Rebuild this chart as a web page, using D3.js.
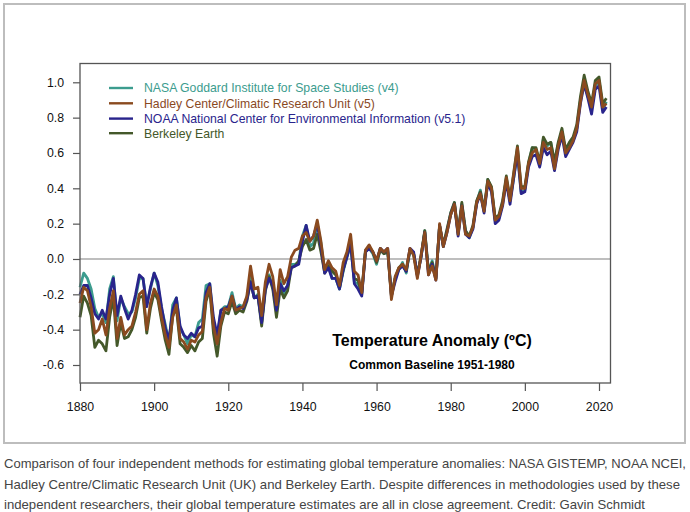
<!DOCTYPE html>
<html>
<head>
<meta charset="utf-8">
<script src="https://cdn.jsdelivr.net/npm/d3@7"></script>
<style>
  html, body { margin: 0; padding: 0; background: #fff; }
  svg { display: block; }
  text { font-family: "Liberation Sans", Arial, Helvetica, sans-serif; }
</style>
</head>
<body>
<svg id="chart" width="690" height="512"></svg>
<script>
// ---- data (annual anomalies, °C, baseline 1951-1980) ----
const startYear = 1880;
const endYear = 2022;

const nasa = [
 -0.16,-0.08,-0.11,-0.17,-0.28,-0.33,-0.31,-0.36,-0.17,-0.10,
 -0.35,-0.22,-0.27,-0.31,-0.30,-0.22,-0.11,-0.11,-0.26,-0.17,
 -0.08,-0.15,-0.28,-0.37,-0.47,-0.26,-0.22,-0.39,-0.43,-0.48,
 -0.43,-0.44,-0.36,-0.34,-0.15,-0.14,-0.36,-0.46,-0.29,-0.27,
 -0.27,-0.19,-0.28,-0.26,-0.27,-0.22,-0.10,-0.22,-0.20,-0.36,
 -0.16,-0.09,-0.16,-0.29,-0.12,-0.20,-0.15,-0.03,-0.03,-0.02,
  0.13, 0.19, 0.07, 0.09, 0.20, 0.09,-0.07,-0.03,-0.11,-0.11,
 -0.17,-0.07, 0.01, 0.08,-0.13,-0.14,-0.19, 0.05, 0.06, 0.03,
 -0.03, 0.06, 0.03, 0.05,-0.20,-0.11,-0.06,-0.02,-0.08, 0.05,
  0.03,-0.09, 0.01, 0.16,-0.07,-0.01,-0.11, 0.19, 0.07, 0.16,
  0.26, 0.32, 0.14, 0.31, 0.16, 0.12, 0.18, 0.32, 0.39, 0.27,
  0.45, 0.40, 0.22, 0.23, 0.32, 0.45, 0.33, 0.46, 0.61, 0.38,
  0.39, 0.54, 0.63, 0.62, 0.53, 0.68, 0.64, 0.66, 0.54, 0.65,
  0.72, 0.61, 0.65, 0.68, 0.74, 0.90, 1.01, 0.92, 0.85, 0.98,
  1.01, 0.85, 0.89
];

const hadley = [
 -0.25,-0.16,-0.18,-0.27,-0.42,-0.40,-0.34,-0.43,-0.28,-0.18,
 -0.45,-0.33,-0.43,-0.40,-0.38,-0.30,-0.20,-0.18,-0.40,-0.25,
 -0.17,-0.21,-0.33,-0.43,-0.50,-0.33,-0.26,-0.45,-0.47,-0.51,
 -0.46,-0.47,-0.43,-0.41,-0.22,-0.16,-0.38,-0.48,-0.36,-0.28,
 -0.29,-0.21,-0.29,-0.28,-0.27,-0.21,-0.04,-0.17,-0.16,-0.32,
 -0.13,-0.03,-0.10,-0.26,-0.06,-0.14,-0.10, 0.01, 0.05, 0.06,
  0.13, 0.15, 0.10, 0.13, 0.22, 0.10,-0.06,-0.01,-0.05,-0.07,
 -0.15,-0.02, 0.04, 0.14,-0.07,-0.09,-0.19, 0.05, 0.08, 0.04,
 -0.01, 0.06, 0.04, 0.06,-0.23,-0.10,-0.05,-0.03,-0.06, 0.06,
  0.02,-0.11, 0.02, 0.15,-0.09,-0.04,-0.12, 0.20, 0.07, 0.15,
  0.25, 0.31, 0.14, 0.30, 0.14, 0.13, 0.18, 0.32, 0.37, 0.27,
  0.44, 0.40, 0.22, 0.24, 0.31, 0.46, 0.33, 0.48, 0.63, 0.40,
  0.40, 0.54, 0.60, 0.62, 0.54, 0.66, 0.62, 0.63, 0.51, 0.64,
  0.72, 0.60, 0.63, 0.67, 0.74, 0.89, 1.01, 0.93, 0.86, 0.99,
  1.01, 0.86, 0.88
];

const noaa = [
 -0.20,-0.15,-0.15,-0.22,-0.31,-0.34,-0.29,-0.34,-0.20,-0.11,
 -0.32,-0.21,-0.28,-0.34,-0.29,-0.20,-0.09,-0.11,-0.27,-0.16,
 -0.08,-0.13,-0.27,-0.39,-0.46,-0.29,-0.22,-0.38,-0.43,-0.45,
 -0.42,-0.44,-0.39,-0.38,-0.19,-0.14,-0.33,-0.43,-0.29,-0.28,
 -0.27,-0.21,-0.29,-0.27,-0.28,-0.23,-0.13,-0.22,-0.21,-0.36,
 -0.17,-0.11,-0.15,-0.29,-0.14,-0.18,-0.15,-0.05,-0.04,-0.03,
  0.10, 0.19, 0.10, 0.13, 0.20, 0.07,-0.08,-0.05,-0.11,-0.11,
 -0.17,-0.06, 0.01, 0.09,-0.14,-0.17,-0.21, 0.04, 0.06, 0.04,
 -0.01, 0.06, 0.04, 0.06,-0.21,-0.13,-0.06,-0.04,-0.07, 0.06,
  0.04,-0.10, 0.01, 0.15,-0.09,-0.03,-0.12, 0.19, 0.07, 0.15,
  0.25, 0.31, 0.13, 0.30, 0.14, 0.12, 0.17, 0.31, 0.37, 0.26,
  0.43, 0.38, 0.20, 0.22, 0.30, 0.44, 0.31, 0.46, 0.60, 0.37,
  0.38, 0.52, 0.58, 0.59, 0.52, 0.63, 0.59, 0.61, 0.50, 0.62,
  0.70, 0.58, 0.62, 0.66, 0.72, 0.88, 0.99, 0.91, 0.82, 0.96,
  0.98, 0.83, 0.86
];

const berkeley = [
 -0.33,-0.21,-0.25,-0.32,-0.50,-0.46,-0.48,-0.52,-0.33,-0.22,
 -0.49,-0.36,-0.45,-0.44,-0.40,-0.33,-0.22,-0.21,-0.42,-0.28,
 -0.19,-0.23,-0.35,-0.46,-0.54,-0.32,-0.28,-0.48,-0.50,-0.53,
 -0.49,-0.52,-0.47,-0.45,-0.24,-0.17,-0.42,-0.55,-0.38,-0.30,
 -0.31,-0.24,-0.31,-0.29,-0.30,-0.24,-0.13,-0.22,-0.21,-0.38,
 -0.18,-0.10,-0.17,-0.33,-0.17,-0.22,-0.18,-0.05,-0.04,-0.01,
  0.07, 0.11, 0.05, 0.06, 0.14, 0.04,-0.08,-0.04,-0.07,-0.09,
 -0.16,-0.06, 0.02, 0.11,-0.11,-0.12,-0.20, 0.04, 0.07, 0.04,
 -0.02, 0.05, 0.03, 0.04,-0.21,-0.11,-0.05,-0.03,-0.07, 0.05,
  0.03,-0.09, 0.02, 0.16,-0.07,-0.02,-0.11, 0.19, 0.08, 0.17,
  0.26, 0.32, 0.15, 0.32, 0.16, 0.13, 0.19, 0.33, 0.38, 0.28,
  0.45, 0.41, 0.23, 0.25, 0.33, 0.47, 0.34, 0.49, 0.64, 0.41,
  0.41, 0.55, 0.63, 0.63, 0.55, 0.69, 0.65, 0.66, 0.55, 0.66,
  0.74, 0.62, 0.66, 0.69, 0.76, 0.92, 1.04, 0.95, 0.88, 1.01,
  1.03, 0.88, 0.91
];

const seriesNames = [
  "NASA Goddard Institute for Space Studies (v4)",
  "Hadley Center/Climatic Research Unit (v5)",
  "NOAA National Center for Environmental Information (v5.1)",
  "Berkeley Earth"
];
const seriesColors = ["#3c9c8e", "#8a4a1f", "#29248c", "#44582a"];
const seriesValues = [nasa, hadley, noaa, berkeley];
const drawOrder = [0, 3, 2, 1];

const xTicks = [1880, 1900, 1920, 1940, 1960, 1980, 2000, 2020];
const yTicks = [-0.6, -0.4, -0.2, 0.0, 0.2, 0.4, 0.6, 0.8, 1.0];

const titleText = "Temperature Anomaly (ºC)";
const subtitleText = "Common Baseline 1951-1980";
const captionLines = [
  "Comparison of four independent methods for estimating global temperature anomalies: NASA GISTEMP, NOAA NCEI,",
  "Hadley Centre/Climatic Research Unit (UK) and Berkeley Earth. Despite differences in methodologies used by these",
  "independent researchers, their global temperature estimates are all in close agreement. Credit: Gavin Schmidt"
];
const captionWidths = [682, 676, 641];

// ---- layout ----
const years = d3.range(startYear, endYear + 1);
const svg = d3.select("#chart");

const box = { left: 80, right: 610.5, top: 63.5, bottom: 383 };
const x = d3.scaleLinear().domain([1880, 2020]).range([80, 599]);
const y = d3.scaleLinear().domain([-0.6, 1.0]).range([365, 82.3]);

// outer frame
svg.append("rect")
  .attr("x", 4).attr("y", 4).attr("width", 681).attr("height", 439)
  .attr("fill", "#fff").attr("stroke", "#bdbdbd").attr("stroke-width", 2);

// zero line
svg.append("line")
  .attr("x1", box.left).attr("x2", box.right)
  .attr("y1", y(0)).attr("y2", y(0))
  .attr("stroke", "#a8a8a8").attr("stroke-width", 1.6);

// series
const line = d3.line()
  .x((d, i) => x(years[i]))
  .y(d => y(d))
  .curve(d3.curveLinear);

const g = svg.append("g");
drawOrder.forEach(k => {
  g.append("path")
    .datum(seriesValues[k])
    .attr("d", line)
    .attr("fill", "none")
    .attr("stroke", seriesColors[k])
    .attr("stroke-width", 2.8)
    .attr("stroke-linejoin", "round");
});

// plot box
svg.append("rect")
  .attr("x", box.left).attr("y", box.top)
  .attr("width", box.right - box.left).attr("height", box.bottom - box.top)
  .attr("fill", "none").attr("stroke", "#555").attr("stroke-width", 1.3);

// y axis
const yAxis = d3.axisLeft(y)
  .tickValues(yTicks)
  .tickSize(7)
  .tickPadding(9)
  .tickFormat(d => d.toFixed(1));
const ga = svg.append("g").attr("transform", `translate(${box.left},0)`).call(yAxis);
ga.select(".domain").remove();
ga.selectAll("line").attr("stroke", "#555").attr("stroke-width", 1.2);
ga.selectAll("text").attr("fill", "#111").style("font-size", "12.3px")
  .attr("font-family", "Liberation Sans, Arial, sans-serif");

// x axis
const xAxis = d3.axisBottom(x)
  .tickValues(xTicks)
  .tickSize(8)
  .tickPadding(11)
  .tickFormat(d3.format("d"));
const gx = svg.append("g").attr("transform", `translate(0,${box.bottom})`).call(xAxis);
gx.select(".domain").remove();
gx.selectAll("line").attr("stroke", "#555").attr("stroke-width", 1.2);
gx.selectAll("text").attr("fill", "#111").style("font-size", "12.3px")
  .attr("font-family", "Liberation Sans, Arial, sans-serif");

// legend
const legendRowsY = [88, 103.3, 118.6, 133.2];
seriesNames.forEach((name, i) => {
  svg.append("line")
    .attr("x1", 109).attr("x2", 133)
    .attr("y1", legendRowsY[i]).attr("y2", legendRowsY[i])
    .attr("stroke", seriesColors[i]).attr("stroke-width", 2.4);
  svg.append("text")
    .attr("x", 144).attr("y", legendRowsY[i]).attr("dy", "0.36em")
    .attr("fill", seriesColors[i])
    .style("font-size", "12.25px")
    .text(name);
});

// title
svg.append("text")
  .attr("x", 432).attr("y", 346)
  .attr("text-anchor", "middle")
  .style("font-size", "16px").style("font-weight", "bold")
  .attr("fill", "#000")
  .text(titleText);
svg.append("text")
  .attr("x", 432).attr("y", 369)
  .attr("text-anchor", "middle")
  .style("font-size", "12px").style("font-weight", "bold")
  .attr("fill", "#000")
  .text(subtitleText);

// caption
const captionY = [468, 488.5, 509];
captionLines.forEach((t, i) => {
  svg.append("text")
    .attr("x", 4).attr("y", captionY[i])
    .attr("fill", "#444")
    .style("font-size", "13px")
    .attr("textLength", captionWidths[i])
    .attr("lengthAdjust", "spacingAndGlyphs")
    .text(t);
});
</script>
</body>
</html>
